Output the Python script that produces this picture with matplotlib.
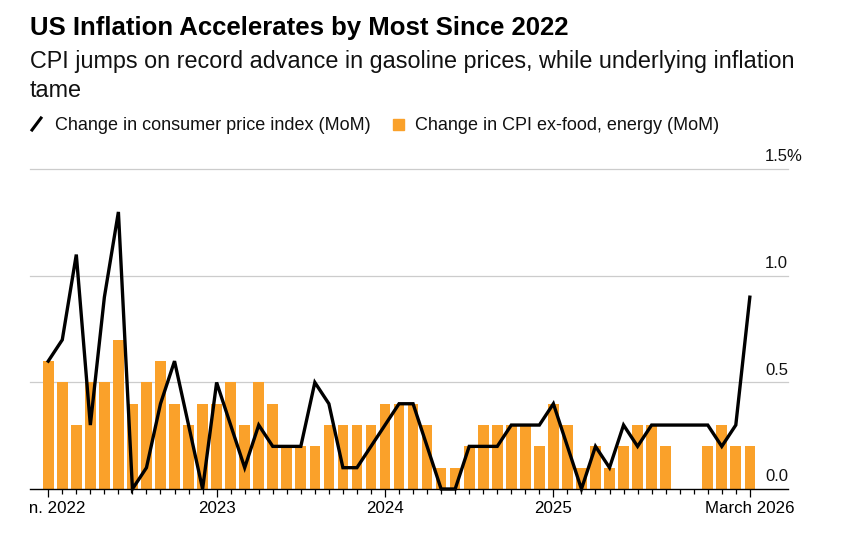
import numpy as np
import matplotlib.pyplot as plt
from matplotlib.patches import Rectangle
from matplotlib.lines import Line2D
import matplotlib.transforms as mtransforms

plt.rcParams['font.family'] = ['Liberation Sans', 'DejaVu Sans']

# monthly data, Jan 2022 .. March 2026 (Oct/Nov 2025 missing)
months = np.arange(51)
cpi = [0.6, 0.7, 1.1, 0.3, 0.9, 1.3, 0.0, 0.1, 0.4, 0.6, 0.3, 0.0,
       0.5, 0.3, 0.1, 0.3, 0.2, 0.2, 0.2, 0.5, 0.4, 0.1, 0.1, 0.2,
       0.3, 0.4, 0.4, 0.2, 0.0, 0.0, 0.2, 0.2, 0.2, 0.3, 0.3, 0.3,
       0.4, 0.2, 0.0, 0.2, 0.1, 0.3, 0.2, 0.3, 0.3, None, None, 0.3,
       0.2, 0.3, 0.9]
core = [0.6, 0.5, 0.3, 0.5, 0.5, 0.7, 0.4, 0.5, 0.6, 0.4, 0.3, 0.4,
        0.4, 0.5, 0.3, 0.5, 0.4, 0.2, 0.2, 0.2, 0.3, 0.3, 0.3, 0.3,
        0.4, 0.4, 0.4, 0.3, 0.1, 0.1, 0.2, 0.3, 0.3, 0.3, 0.3, 0.2,
        0.4, 0.3, 0.1, 0.2, 0.1, 0.2, 0.3, 0.3, 0.2, None, None, 0.2,
        0.3, 0.2, 0.2]
tick_pos = [0, 12, 24, 36, 50]
tick_labels = ['Jan. 2022', '2023', '2024', '2025', 'March 2026']
y_ticks = [0.0, 0.5, 1.0, 1.5]
y_labels = ['0.0', '0.5', '1.0', '1.5%']

cpi = np.array(cpi, dtype=float)
core = np.array(core, dtype=float)
orange = '#FAA12A'

W, H = 865, 540
fig = plt.figure(figsize=(W / 100, H / 100), dpi=100)
ax = fig.add_axes([30 / W, 1 - 489 / H, 758 / W, 319.7 / H])

# grid
for v in y_ticks[1:]:
    ax.axhline(v, color='#cccccc', lw=0.9, zorder=0, clip_on=False)

ok = ~np.isnan(core)
ax.bar(months[ok], core[ok], width=0.76, color=orange, zorder=2)
ok = ~np.isnan(cpi)
ax.plot(months[ok], cpi[ok], color='black', lw=2.4, zorder=3,
        solid_joinstyle='miter', clip_on=False)

ax.set_xlim(-1.3, 52.72)
ax.set_ylim(0, 1.5)
for s in ['top', 'right', 'left']:
    ax.spines[s].set_visible(False)
ax.spines['bottom'].set_color('black')
ax.spines['bottom'].set_linewidth(1.0)
ax.spines['bottom'].set_zorder(4)

ax.set_xticks(tick_pos)
ax.set_xticklabels(tick_labels, fontsize=12.2)
ax.set_xticks(months, minor=True)
ax.tick_params(axis='x', which='major', length=5.5, width=0.9, color='black', pad=3)
ax.tick_params(axis='x', which='minor', length=3.3, width=0.9, color='black')
ax.set_yticks([])

# first label is cut off at the left edge, as in the original
clip = Rectangle((29 / W, 0), 1, 1, transform=fig.transFigure)
lab = ax.get_xticklabels()[0]
lab.set_clip_path(clip)
lab.set_clip_on(True)

trans = mtransforms.blended_transform_factory(ax.transAxes, ax.transData)
for v, t in zip(y_ticks, y_labels):
    ax.text((765 - 30) / 758, v + 0.037, t, transform=trans, ha='left',
            va='baseline', fontsize=12, color='#111111')

# titles
fig.text(30 / W, 1 - 35 / H, 'US Inflation Accelerates by Most Since 2022',
         fontsize=18.5, fontweight='bold', va='baseline', color='black')
fig.text(30 / W, 1 - 68 / H,
         'CPI jumps on record advance in gasoline prices, while underlying inflation',
         fontsize=16.8, va='baseline', color='#111111')
fig.text(30 / W, 1 - 97 / H, 'tame', fontsize=16.8, va='baseline', color='#111111')

# legend
fig.add_artist(Line2D([32 / W, 41 / W], [1 - 130 / H, 1 - 118 / H],
                      transform=fig.transFigure, color='black', lw=2.2))
fig.text(55 / W, 1 - 129.5 / H, 'Change in consumer price index (MoM)',
         fontsize=13, va='baseline', color='#111111')
fig.add_artist(Rectangle((393 / W, 1 - 129.5 / H), 11 / W, 10.5 / H,
                         transform=fig.transFigure, color=orange))
fig.text(415 / W, 1 - 129.5 / H, 'Change in CPI ex-food, energy (MoM)',
         fontsize=13, va='baseline', color='#111111')

plt.savefig('out.png', dpi=100)
